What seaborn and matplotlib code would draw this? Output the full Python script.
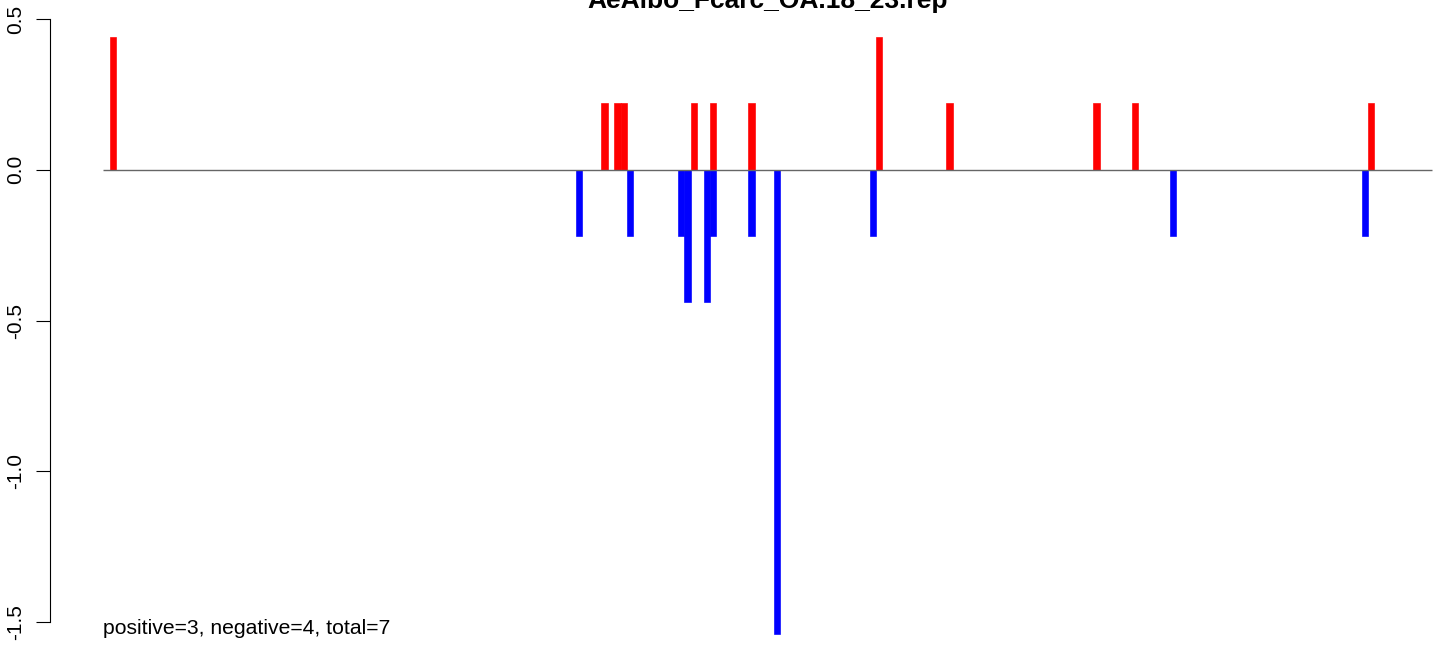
import numpy as np
import pandas as pd
import seaborn as sns
import matplotlib.pyplot as plt

# chart data
title = "AeAlbo_Fcarc_OA.18_23.rep"
summary = "positive=3, negative=4, total=7"
n_bins = 208

pos_bins = [1, 78, 80, 81, 92, 95, 101, 121, 132, 155, 161, 198]
pos_vals = [0.44, 0.22, 0.22, 0.22, 0.22, 0.22, 0.22, 0.44, 0.22, 0.22, 0.22, 0.22]

neg_bins = [74, 82, 90, 91, 94, 95, 101, 105, 120, 167, 197]
neg_vals = [-0.22, -0.22, -0.22, -0.44, -0.44, -0.22, -0.22, -1.54, -0.22, -0.22, -0.22]

ytick_vals = [-1.5, -1.0, -0.5, 0.0, 0.5]
ytick_labels = ["-1.5", "-1.0", "-0.5", "0.0", "0.5"]

pos_df = pd.DataFrame({"bin": pos_bins, "value": pos_vals})
neg_df = pd.DataFrame({"bin": neg_bins, "value": neg_vals})

sns.set_style("white")
plt.rcParams["font.family"] = ["Liberation Sans", "DejaVu Sans"]
plt.rcParams["text.color"] = "black"
plt.rcParams["ytick.color"] = "black"
plt.rcParams["ytick.labelcolor"] = "black"

W, H = 1444, 645
fig = plt.figure(figsize=(W / 100, H / 100), dpi=100)
# R-like plot region; it runs past the right and bottom edges of the picture
ax = fig.add_axes([50 / W, (H - 657.9) / H, 1435 / W, 644.6 / H])

sns.barplot(data=pos_df, x="bin", y="value", native_scale=True, width=1,
            color="#ff0000", saturation=1, edgecolor="#ff0000", linewidth=0.45,
            errorbar=None, ax=ax)
sns.barplot(data=neg_df, x="bin", y="value", native_scale=True, width=1,
            color="#0000ff", saturation=1, edgecolor="#0000ff", linewidth=0.45,
            errorbar=None, ax=ax)

# zero line over the full bin range
ax.hlines(0, -0.5, n_bins - 0.5, color="#666666", linewidth=1.0, zorder=5)

# R style limits: 4% padding on both axes
ax.set_xlim(-0.04 * n_bins - 0.5, 1.04 * n_bins - 0.5)
lo, hi = min(neg_vals), max(pos_vals)
pad = 0.04 * (hi - lo)
ax.set_ylim(lo - pad, hi + pad)

ax.set_xticks([])
ax.set_xlabel("")
ax.set_ylabel("")
for s in ["top", "right", "bottom"]:
    ax.spines[s].set_visible(False)
ax.spines["left"].set_bounds(ytick_vals[0], ytick_vals[-1])
ax.spines["left"].set_linewidth(0.8)
ax.spines["left"].set_color("black")
ax.set_yticks(ytick_vals, ytick_labels, rotation=90, va="center")
ax.tick_params(axis="y", direction="out", length=10, width=0.8, pad=8,
               labelsize=15, left=True, color="black", labelcolor="black")

ax.set_title(title, fontsize=19, fontweight="bold", pad=3, color="black")
ax.text(-0.5, lo, summary, fontsize=15.2, ha="left", va="baseline", color="black")

fig.savefig("out.png", dpi=100)
